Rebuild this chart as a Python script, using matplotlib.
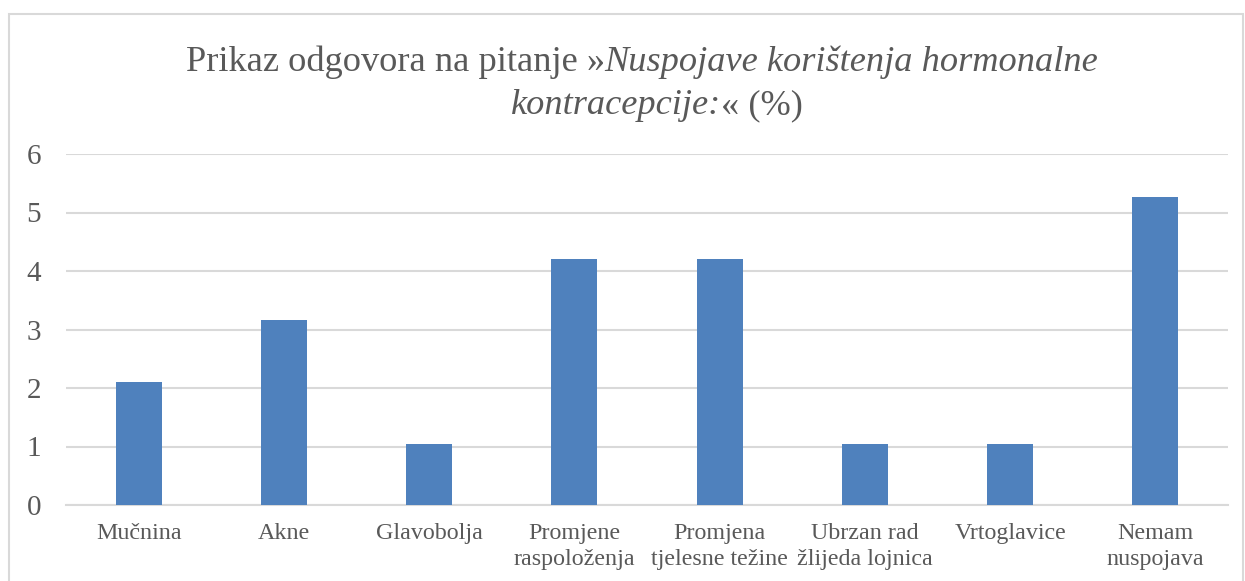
import matplotlib
matplotlib.use("Agg")
import matplotlib.pyplot as plt
from matplotlib.patches import Rectangle

# data (% of answers)
categories = ["Mučnina", "Akne", "Glavobolja", "Promjene\nraspoloženja",
              "Promjena\ntjelesne težine", "Ubrzan rad\nžlijeda lojnica",
              "Vrtoglavice", "Nemam\nnuspojava"]
values = [2.11, 3.16, 1.05, 4.21, 4.21, 1.05, 1.05, 5.26]
yticks = [0, 1, 2, 3, 4, 5, 6]

W, H = 1245, 581
grey = "#595959"
plt.rcParams['font.family'] = ['Liberation Serif', 'DejaVu Serif']

fig = plt.figure(figsize=(W / 100, H / 100), dpi=100)
ax = fig.add_axes([66 / W, (H - 505) / H, (1228 - 66) / W, (505 - 154) / H])

x = list(range(len(categories)))
ax.bar(x, values, width=0.317, color="#4F81BD", zorder=3)
ax.set_xlim(-0.5, len(categories) - 0.5)
ax.set_ylim(0, 6)
ax.set_yticks(yticks)
ax.set_yticklabels([str(t) for t in yticks], fontsize=21, color=grey)
ax.set_xticks(x)
ax.set_xticklabels(categories, fontsize=17.3, color=grey, linespacing=1.3)
ax.tick_params(axis="both", length=0)
ax.tick_params(axis="y", pad=18)
ax.tick_params(axis="x", pad=13)
ax.grid(axis="y", color="#D9D9D9", linewidth=1.5, zorder=0)
for s in ["top", "right", "left"]:
    ax.spines[s].set_visible(False)
ax.spines["bottom"].set_color("#D9D9D9")
ax.spines["bottom"].set_linewidth(1.5)

# outer chart frame
fig.patches.append(Rectangle((8.5 / W, -0.1), (1243 - 8.5) / W, 1.1 - 14.5 / H,
                             transform=fig.transFigure, fill=False,
                             edgecolor="#D9D9D9", linewidth=1.5))

# title, mixed upright / italic, each line centred
renderer = fig.canvas.get_renderer()
title_lines = [
    ([("Prikaz odgovora na pitanje »", "normal"),
      ("Nuspojave korištenja hormonalne", "italic")], 642, 71),
    ([("kontracepcije:", "italic"), ("« (%)", "normal")], 657, 114),
]
for pieces, cx, base in title_lines:
    texts = []
    for s, style in pieces:
        t = fig.text(0, 0, s, fontsize=26.2, style=style, color=grey,
                     va="baseline", ha="left")
        texts.append(t)
    widths = [t.get_window_extent(renderer).width for t in texts]
    left = cx - sum(widths) / 2
    for t, w in zip(texts, widths):
        t.set_position((left / W, (H - base) / H))
        left += w

fig.savefig("out.png", dpi=100)
